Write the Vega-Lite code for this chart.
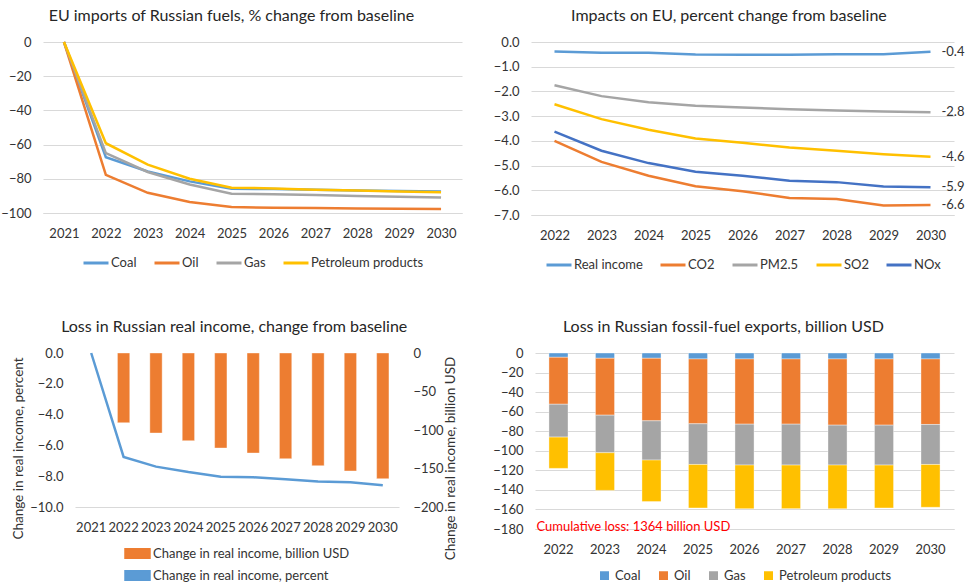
{
  "$schema": "https://vega.github.io/schema/vega-lite/v6.json",
  "padding": {"left": 0, "top": 8, "right": 3, "bottom": 5},
  "background": "white",
  "datasets": {
    "imports": [
      {"year": "2021", "fuel": "Coal", "value": 0},
      {"year": "2022", "fuel": "Coal", "value": -67.4},
      {"year": "2023", "fuel": "Coal", "value": -75.7},
      {"year": "2024", "fuel": "Coal", "value": -81.5},
      {"year": "2025", "fuel": "Coal", "value": -85.8},
      {"year": "2026", "fuel": "Coal", "value": -86.0},
      {"year": "2027", "fuel": "Coal", "value": -86.4},
      {"year": "2028", "fuel": "Coal", "value": -86.8},
      {"year": "2029", "fuel": "Coal", "value": -87.2},
      {"year": "2030", "fuel": "Coal", "value": -87.4},
      {"year": "2021", "fuel": "Oil", "value": 0},
      {"year": "2022", "fuel": "Oil", "value": -77.7},
      {"year": "2023", "fuel": "Oil", "value": -88.2},
      {"year": "2024", "fuel": "Oil", "value": -93.6},
      {"year": "2025", "fuel": "Oil", "value": -96.5},
      {"year": "2026", "fuel": "Oil", "value": -96.9},
      {"year": "2027", "fuel": "Oil", "value": -97.1},
      {"year": "2028", "fuel": "Oil", "value": -97.3},
      {"year": "2029", "fuel": "Oil", "value": -97.5},
      {"year": "2030", "fuel": "Oil", "value": -97.7},
      {"year": "2021", "fuel": "Gas", "value": 0},
      {"year": "2022", "fuel": "Gas", "value": -65.0},
      {"year": "2023", "fuel": "Gas", "value": -76.0},
      {"year": "2024", "fuel": "Gas", "value": -83.3},
      {"year": "2025", "fuel": "Gas", "value": -88.7},
      {"year": "2026", "fuel": "Gas", "value": -89.1},
      {"year": "2027", "fuel": "Gas", "value": -89.5},
      {"year": "2028", "fuel": "Gas", "value": -90.1},
      {"year": "2029", "fuel": "Gas", "value": -90.5},
      {"year": "2030", "fuel": "Gas", "value": -90.9},
      {"year": "2021", "fuel": "Petroleum products", "value": 0},
      {"year": "2022", "fuel": "Petroleum products", "value": -59.2},
      {"year": "2023", "fuel": "Petroleum products", "value": -71.7},
      {"year": "2024", "fuel": "Petroleum products", "value": -80.0},
      {"year": "2025", "fuel": "Petroleum products", "value": -85.2},
      {"year": "2026", "fuel": "Petroleum products", "value": -85.6},
      {"year": "2027", "fuel": "Petroleum products", "value": -86.4},
      {"year": "2028", "fuel": "Petroleum products", "value": -86.8},
      {"year": "2029", "fuel": "Petroleum products", "value": -87.4},
      {"year": "2030", "fuel": "Petroleum products", "value": -87.8}
    ],
    "impacts": [
      {"year": "2022", "series": "Real income", "value": -0.38},
      {"year": "2023", "series": "Real income", "value": -0.44},
      {"year": "2024", "series": "Real income", "value": -0.44},
      {"year": "2025", "series": "Real income", "value": -0.51},
      {"year": "2026", "series": "Real income", "value": -0.52},
      {"year": "2027", "series": "Real income", "value": -0.52},
      {"year": "2028", "series": "Real income", "value": -0.50},
      {"year": "2029", "series": "Real income", "value": -0.50},
      {"year": "2030", "series": "Real income", "value": -0.39, "label": "-0.4"},
      {"year": "2022", "series": "CO2", "value": -4.00},
      {"year": "2023", "series": "CO2", "value": -4.85},
      {"year": "2024", "series": "CO2", "value": -5.41},
      {"year": "2025", "series": "CO2", "value": -5.84},
      {"year": "2026", "series": "CO2", "value": -6.04},
      {"year": "2027", "series": "CO2", "value": -6.31},
      {"year": "2028", "series": "CO2", "value": -6.35},
      {"year": "2029", "series": "CO2", "value": -6.62},
      {"year": "2030", "series": "CO2", "value": -6.60, "label": "-6.6"},
      {"year": "2022", "series": "PM2.5", "value": -1.75},
      {"year": "2023", "series": "PM2.5", "value": -2.19},
      {"year": "2024", "series": "PM2.5", "value": -2.44},
      {"year": "2025", "series": "PM2.5", "value": -2.58},
      {"year": "2026", "series": "PM2.5", "value": -2.65},
      {"year": "2027", "series": "PM2.5", "value": -2.72},
      {"year": "2028", "series": "PM2.5", "value": -2.77},
      {"year": "2029", "series": "PM2.5", "value": -2.81},
      {"year": "2030", "series": "PM2.5", "value": -2.84, "label": "-2.8"},
      {"year": "2022", "series": "SO2", "value": -2.52},
      {"year": "2023", "series": "SO2", "value": -3.12},
      {"year": "2024", "series": "SO2", "value": -3.55},
      {"year": "2025", "series": "SO2", "value": -3.90},
      {"year": "2026", "series": "SO2", "value": -4.08},
      {"year": "2027", "series": "SO2", "value": -4.27},
      {"year": "2028", "series": "SO2", "value": -4.40},
      {"year": "2029", "series": "SO2", "value": -4.54},
      {"year": "2030", "series": "SO2", "value": -4.64, "label": "-4.6"},
      {"year": "2022", "series": "NOx", "value": -3.63},
      {"year": "2023", "series": "NOx", "value": -4.40},
      {"year": "2024", "series": "NOx", "value": -4.90},
      {"year": "2025", "series": "NOx", "value": -5.25},
      {"year": "2026", "series": "NOx", "value": -5.41},
      {"year": "2027", "series": "NOx", "value": -5.61},
      {"year": "2028", "series": "NOx", "value": -5.67},
      {"year": "2029", "series": "NOx", "value": -5.85},
      {"year": "2030", "series": "NOx", "value": -5.88, "label": "-5.9"}
    ],
    "income": [
      {"year": "2021", "pct": 0.0},
      {"year": "2022", "pct": -6.75, "usd": -90.5},
      {"year": "2023", "pct": -7.38, "usd": -103.9},
      {"year": "2024", "pct": -7.73, "usd": -113.8},
      {"year": "2025", "pct": -8.03, "usd": -123.4},
      {"year": "2026", "pct": -8.07, "usd": -129.9},
      {"year": "2027", "pct": -8.20, "usd": -137.2},
      {"year": "2028", "pct": -8.35, "usd": -146.3},
      {"year": "2029", "pct": -8.40, "usd": -153.2},
      {"year": "2030", "pct": -8.59, "usd": -163.2}
    ],
    "exports": [
      {"year": "2022", "fuel": "Coal", "k": 1, "value": -4.4},
      {"year": "2022", "fuel": "Oil", "k": 2, "value": -48.0},
      {"year": "2022", "fuel": "Gas", "k": 3, "value": -33.6},
      {"year": "2022", "fuel": "Petroleum products", "k": 4, "value": -32.0},
      {"year": "2023", "fuel": "Coal", "k": 1, "value": -5.4},
      {"year": "2023", "fuel": "Oil", "k": 2, "value": -58.2},
      {"year": "2023", "fuel": "Gas", "k": 3, "value": -38.4},
      {"year": "2023", "fuel": "Petroleum products", "k": 4, "value": -38.5},
      {"year": "2024", "fuel": "Coal", "k": 1, "value": -5.4},
      {"year": "2024", "fuel": "Oil", "k": 2, "value": -64.0},
      {"year": "2024", "fuel": "Gas", "k": 3, "value": -40.1},
      {"year": "2024", "fuel": "Petroleum products", "k": 4, "value": -42.5},
      {"year": "2025", "fuel": "Coal", "k": 1, "value": -6.1},
      {"year": "2025", "fuel": "Oil", "k": 2, "value": -66.3},
      {"year": "2025", "fuel": "Gas", "k": 3, "value": -41.6},
      {"year": "2025", "fuel": "Petroleum products", "k": 4, "value": -44.5},
      {"year": "2026", "fuel": "Coal", "k": 1, "value": -6.1},
      {"year": "2026", "fuel": "Oil", "k": 2, "value": -66.7},
      {"year": "2026", "fuel": "Gas", "k": 3, "value": -41.8},
      {"year": "2026", "fuel": "Petroleum products", "k": 4, "value": -44.6},
      {"year": "2027", "fuel": "Coal", "k": 1, "value": -6.1},
      {"year": "2027", "fuel": "Oil", "k": 2, "value": -66.7},
      {"year": "2027", "fuel": "Gas", "k": 3, "value": -41.8},
      {"year": "2027", "fuel": "Petroleum products", "k": 4, "value": -44.6},
      {"year": "2028", "fuel": "Coal", "k": 1, "value": -6.1},
      {"year": "2028", "fuel": "Oil", "k": 2, "value": -67.7},
      {"year": "2028", "fuel": "Gas", "k": 3, "value": -40.8},
      {"year": "2028", "fuel": "Petroleum products", "k": 4, "value": -44.6},
      {"year": "2029", "fuel": "Coal", "k": 1, "value": -6.1},
      {"year": "2029", "fuel": "Oil", "k": 2, "value": -67.7},
      {"year": "2029", "fuel": "Gas", "k": 3, "value": -40.8},
      {"year": "2029", "fuel": "Petroleum products", "k": 4, "value": -43.9},
      {"year": "2030", "fuel": "Coal", "k": 1, "value": -6.1},
      {"year": "2030", "fuel": "Oil", "k": 2, "value": -67.0},
      {"year": "2030", "fuel": "Gas", "k": 3, "value": -40.9},
      {"year": "2030", "fuel": "Petroleum products", "k": 4, "value": -43.8}
    ],
    "note": [
      {"year": "2022", "value": -178, "text": "Cumulative loss: 1364 billion USD"}
    ]
  },
  "vconcat": [
    {
      "hconcat": [
        {
          "title": "EU imports of Russian fuels, % change from baseline",
          "width": 419,
          "height": 171,
          "data": {"name": "imports"},
          "mark": {"type": "line", "strokeWidth": 2.5},
          "encoding": {
            "x": {"field": "year", "type": "ordinal", "title": null, "scale": {"paddingInner": 0, "paddingOuter": 0}},
            "y": {"field": "value", "type": "quantitative", "title": null, "scale": {"domain": [-100, 0], "nice": false}, "axis": {"values": [0, -20, -40, -60, -80, -100], "labelOverlap": false}},
            "color": {"field": "fuel", "type": "nominal", "title": null,
              "scale": {"domain": ["Coal", "Oil", "Gas", "Petroleum products"], "range": ["#5B9BD5", "#ED7D31", "#A5A5A5", "#FFC000"]},
              "legend": {"symbolType": "stroke", "symbolSize": 625, "symbolStrokeWidth": 3, "labelOffset": 1, "columnPadding": 11, "offset": 9}}
          }
        },
        {
          "title": "Impacts on EU, percent change from baseline",
          "width": 423,
          "height": 173,
          "data": {"name": "impacts"},
          "layer": [
            {
              "mark": {"type": "line", "strokeWidth": 2.5},
              "encoding": {
                "x": {"field": "year", "type": "ordinal", "title": null, "scale": {"paddingInner": 0, "paddingOuter": 0}},
                "y": {"field": "value", "type": "quantitative", "title": null, "scale": {"domain": [-7, 0], "nice": false}, "axis": {"format": ".1f", "values": [0, -1, -2, -3, -4, -5, -6, -7], "labelOverlap": false}},
                "color": {"field": "series", "type": "nominal", "title": null,
                  "scale": {"domain": ["Real income", "CO2", "PM2.5", "SO2", "NOx"], "range": ["#5B9BD5", "#ED7D31", "#A5A5A5", "#FFC000", "#4472C4"]},
                  "legend": {"symbolType": "stroke", "symbolSize": 625, "symbolStrokeWidth": 3, "labelOffset": 1, "columnPadding": 11, "offset": 9}}
              }
            },
            {
              "transform": [{"filter": "datum.label != null"}],
              "mark": {"type": "text", "align": "left", "baseline": "middle", "dx": 11, "fontSize": 13, "color": "#333333"},
              "encoding": {
                "x": {"field": "year", "type": "ordinal", "title": null},
                "y": {"field": "value", "type": "quantitative", "title": null, "axis": {"format": ".1f", "values": [0, -1, -2, -3, -4, -5, -6, -7], "labelOverlap": false}},
                "text": {"field": "label"}
              }
            }
          ]
        }
      ],
      "spacing": 69,
      "bounds": "flush",
      "resolve": {"scale": {"x": "independent", "y": "independent", "color": "independent"}, "axis": {"x": "independent", "y": "independent"}, "legend": {"color": "independent"}}
    },
    {
      "hconcat": [
        {
          "width": 32,
          "height": 1,
          "data": {"values": []},
          "mark": {"type": "point", "opacity": 0}
        },
        {
          "title": "Loss in Russian real income, change from baseline",
          "width": 324,
          "height": 154,
          "data": {"name": "income"},
          "layer": [
            {
              "mark": {"type": "bar", "stroke": "#FFFFFF", "strokeWidth": 0.75, "strokeOpacity": 0.5},
              "transform": [{"filter": "datum.usd != null"}],
              "encoding": {
                "x": {"field": "year", "type": "ordinal", "title": null, "scale": {"domain": ["2021","2022","2023","2024","2025","2026","2027","2028","2029","2030"], "paddingInner": 0.62, "paddingOuter": 0.31}},
                "y": {"field": "usd", "type": "quantitative", "title": "Change in real income, billion USD",
                  "scale": {"domain": [-200, 0], "nice": false},
                  "axis": {"orient": "right", "grid": false, "values": [0, -50, -100, -150, -200], "labelOverlap": false, "titleAngle": 270, "titlePadding": 14, "titleY": 105, "labelPadding": 14}},
                "color": {"datum": "Change in real income, billion USD", "type": "nominal",
                  "scale": {"domain": ["Change in real income, billion USD", "Change in real income, percent"], "range": ["#ED7D31", "#5B9BD5"]},
                  "legend": {"title": null, "columns": 1, "rowPadding": 0, "labelOffset": 2, "labelLimit": 400, "symbolType": "M-1,-0.38H1V0.38H-1Z", "symbolSize": 625, "offset": 6}}
              }
            },
            {
              "mark": {"type": "line", "strokeWidth": 2.5},
              "encoding": {
                "x": {"field": "year", "type": "ordinal"},
                "y": {"field": "pct", "type": "quantitative", "title": "Change in real income, percent",
                  "scale": {"domain": [-10, 0], "nice": false},
                  "axis": {"orient": "left", "format": ".1f", "values": [0, -2, -4, -6, -8, -10], "labelOverlap": false, "titlePadding": 4, "titleY": 95}},
                "color": {"datum": "Change in real income, percent", "type": "nominal"}
              }
            }
          ],
          "resolve": {"scale": {"y": "independent"}, "axis": {"y": "independent"}}
        },
        {
          "width": 136,
          "height": 1,
          "data": {"values": []},
          "mark": {"type": "point", "opacity": 0}
        },
        {
          "title": "Loss in Russian fossil-fuel exports, billion USD",
          "width": 419,
          "height": 176,
          "layer": [
            {
              "data": {"name": "exports"},
              "mark": {"type": "bar", "stroke": "#FFFFFF", "strokeWidth": 0.75, "strokeOpacity": 0.5},
              "encoding": {
                "x": {"field": "year", "type": "ordinal", "title": null, "scale": {"paddingInner": 0.59, "paddingOuter": 0.3}},
                "y": {"field": "value", "type": "quantitative", "title": null, "stack": "zero",
                  "scale": {"domain": [-180, 0], "nice": false},
                  "axis": {"values": [0, -20, -40, -60, -80, -100, -120, -140, -160, -180], "labelOverlap": false}},
                "order": {"field": "k", "type": "quantitative"},
                "color": {"field": "fuel", "type": "nominal", "title": null,
                  "scale": {"domain": ["Coal", "Oil", "Gas", "Petroleum products"], "range": ["#5B9BD5", "#ED7D31", "#A5A5A5", "#FFC000"]},
                  "legend": {"symbolType": "square", "symbolSize": 110, "labelOffset": 4, "columnPadding": 14, "offset": 13}}
              }
            },
            {
              "data": {"name": "note"},
              "mark": {"type": "text", "align": "left", "baseline": "middle", "dx": -22, "fontSize": 13, "color": "#FF0000"},
              "encoding": {
                "x": {"field": "year", "type": "ordinal", "title": null},
                "y": {"field": "value", "type": "quantitative", "title": null, "axis": {"values": [0, -20, -40, -60, -80, -100, -120, -140, -160, -180], "labelOverlap": false}},
                "text": {"field": "text"}
              }
            }
          ]
        }
      ],
      "spacing": 0,
      "bounds": "flush",
      "resolve": {"scale": {"x": "independent", "y": "independent", "color": "independent"}, "axis": {"x": "independent", "y": "independent"}, "legend": {"color": "independent"}}
    }
  ],
  "spacing": 47,
  "resolve": {"scale": {"x": "independent", "y": "independent", "color": "independent"}, "axis": {"x": "independent", "y": "independent"}, "legend": {"color": "independent"}},
  "config": {
    "font": "Lato",
    "view": {"stroke": null},
    "title": {"fontSize": 16, "fontWeight": "normal", "color": "#262626", "offset": 12, "font": "Lato", "frame": "bounds"},
    "axis": {"labelFontSize": 13, "labelColor": "#333333", "titleColor": "#333333", "titleFontWeight": "normal", "titleFontSize": 13.5, "gridColor": "#D9D9D9", "domainColor": "#D9D9D9", "ticks": false, "labelFont": "Lato", "titleFont": "Lato", "labelOverlap": false},
    "axisY": {"domain": false, "labelPadding": 12},
    "axisX": {"grid": false, "labelAngle": 0, "labelPadding": 14, "domain": true},
    "legend": {"orient": "bottom", "labelFontSize": 13, "labelColor": "#333333", "labelFont": "Lato", "layout": {"bottom": {"anchor": "middle"}}}
  }
}
